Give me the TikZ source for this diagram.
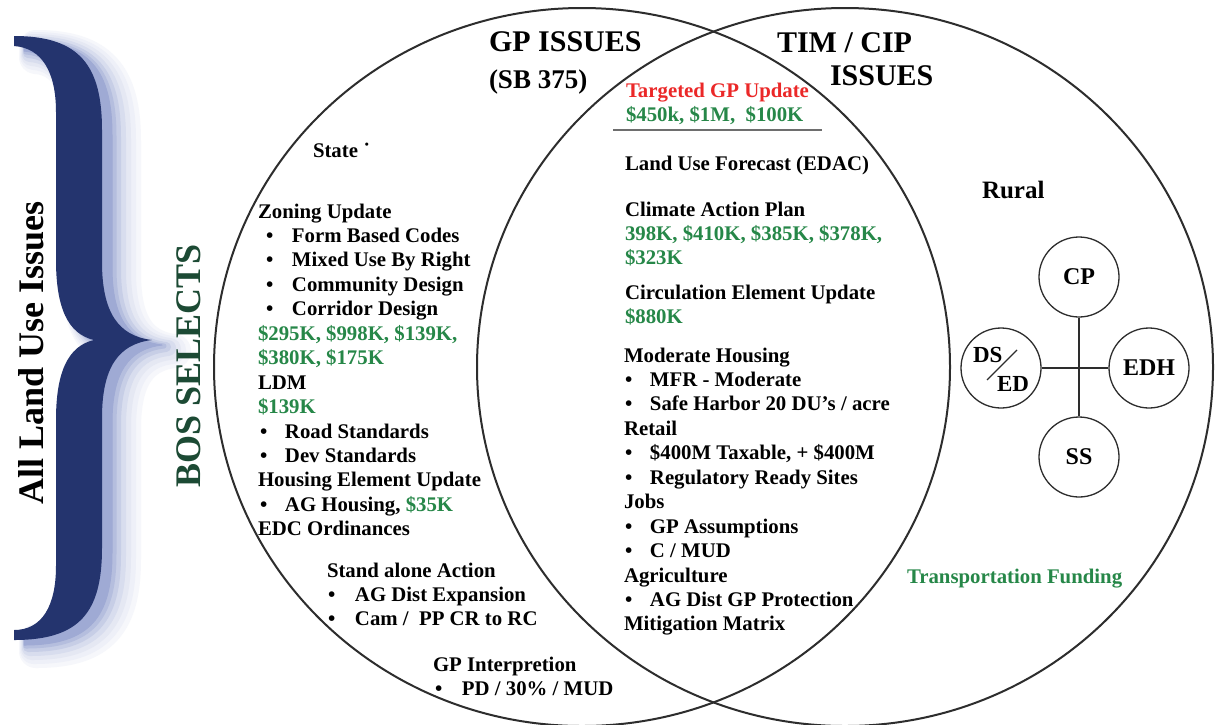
\documentclass[tikz,border=0pt]{standalone}
\usepackage{fontspec}
\setmainfont{Liberation Serif}
\usetikzlibrary{shapes.geometric}
\definecolor{navy}{RGB}{36,52,110}
\definecolor{shade}{RGB}{70,92,172}
\definecolor{bosg}{RGB}{28,74,52}
\definecolor{amt}{RGB}{38,135,72}
\definecolor{tred}{RGB}{235,40,40}
\definecolor{ring}{RGB}{45,45,45}
\definecolor{rule}{RGB}{110,110,110}
\newcommand\money[1]{\textcolor{amt}{#1}}
\newcommand\bitem[3]{\hspace*{#1pt}\makebox[#2pt][l]{\textbullet}#3}
\newcommand\bracepath{(14,36) .. controls (80,36) and (102,66) .. (102,130)
 -- (102,262) .. controls (102,312) and (118,336) .. (152,340)
 .. controls (118,344) and (102,368) .. (102,418)
 -- (102,548) .. controls (102,612) and (80,640) .. (14,640)
 -- (14,630) .. controls (42,630) and (56,606) .. (56,566)
 -- (56,420) .. controls (56,372) and (68,346) .. (94,340)
 .. controls (68,334) and (56,308) .. (56,260)
 -- (56,112) .. controls (56,72) and (42,48) .. (14,46) -- cycle}
\begin{document}
\begin{tikzpicture}[x=1pt,y=-1pt,
  bigc/.style={ellipse, draw=ring, line width=2pt, minimum width=736pt, minimum height=718pt, inner sep=0pt, outer sep=0pt},
  smallc/.style={circle, draw=ring, line width=1.3pt, minimum size=80pt, inner sep=0pt, font=\bfseries\fontsize{24}{28}\selectfont},
  block/.style={anchor=north west, inner sep=0pt, outer sep=0pt, align=left, font=\bfseries\fontsize{20.8}{24.45}\selectfont},
  line/.style={anchor=base west, inner sep=0pt, outer sep=0pt, font=\bfseries\fontsize{20.8}{24.45}\selectfont},
  title/.style={anchor=base west, inner sep=0pt, outer sep=0pt, font=\bfseries\fontsize{30}{36}\selectfont},
  side/.style={rotate=90, anchor=base, inner sep=0pt, outer sep=0pt, font=\bfseries\fontsize{36}{40}\selectfont},
  link/.style={draw=ring, line width=1.3pt}
]
\useasboundingbox (0,0) rectangle (1222,724);
\fill[white] (0,0) rectangle (1222,724);

% brace with soft shadow to the right (solid layers, light to dark)
\foreach \s/\w/\c in {22/34/5, 20/28/9, 18/22/14, 16/16/21, 14/10/30, 12/5/40, 10/1/52}{
  \filldraw[fill=shade!\c, draw=shade!\c, line width=\w pt, line join=round, shift={(\s,0.5*\s)}] \bracepath;
}
\fill[navy] \bracepath;

\node[side] (all) at (43,353) {All Land Use Issues};
\node[side, text=bosg] (bos) at (200,366) {BOS SELECTS};

% the two big circles
\node[bigc] (gp) at (582,367) {};
\node[bigc] (tim) at (845,367) {};

% titles
\node[title] (gpt) at (489,51) {GP ISSUES};
\node[title, font=\bfseries\fontsize{27}{32}\selectfont] (sb) at (489,88) {(SB 375)};
\node[title] (timt) at (777,52) {TIM / CIP};
\node[title] (isst) at (830,85) {ISSUES};

% centre column
\node[block] (tgp) at (626,79.9) {\strut\textcolor{tred}{Targeted GP Update}\\[-0.45pt]\money{\$450k, \$1M,~ \$100K}};
\draw[rule, line width=2pt] (613,130) -- (822,130);
\node[line] (luf) at (625,170) {Land Use Forecast (EDAC)};
\node[block] (cap) at (625,198.9) {\strut Climate Action Plan\\\money{398K, \$410K, \$385K, \$378K,}\\\money{\$323K}};
\node[block] (ceu) at (625,281.9) {\strut Circulation Element Update\\\money{\$880K}};
\node[block] (mh) at (624,344.9) {\strut Moderate Housing\\
\bitem{1}{25}{MFR - Moderate}\\
\bitem{1}{25}{Safe Harbor 20 DU’s / acre}\\
Retail\\
\bitem{1}{25}{\$400M Taxable, + \$400M}\\
\bitem{1}{25}{Regulatory Ready Sites}\\
Jobs\\
\bitem{1}{25}{GP Assumptions}\\
\bitem{1}{25}{C / MUD}\\
Agriculture\\
\bitem{1}{25}{AG Dist GP Protection}\\
Mitigation Matrix};

% left column
\node[line] (state) at (313,157) {State ˙};
\node[block] (zon) at (258,200.9) {\strut Zoning Update\\
\bitem{8}{26}{Form Based Codes}\\
\bitem{8}{26}{Mixed Use By Right}\\
\bitem{8}{26}{Community Design}\\
\bitem{8}{26}{Corridor Design}\\
\money{\$295K, \$998K, \$139K,}\\
\money{\$380K, \$175K}\\
LDM\\
\money{\$139K}\\
\bitem{2}{25}{Road Standards}\\
\bitem{2}{25}{Dev Standards}\\
Housing Element Update\\
\bitem{2}{25}{AG Housing, \money{\$35K}}\\
EDC Ordinances};
\node[block] (sa) at (327,559.9) {\strut Stand alone Action\\[-0.45pt]
\bitem{1}{27}{AG Dist Expansion}\\[-0.45pt]
\bitem{1}{27}{Cam /~ PP CR to RC}};
\node[block] (gpi) at (433,653.9) {\strut GP Interpretion\\[-0.45pt]
\bitem{2}{27}{PD / 30\% / MUD}};

% right part
\node[line, font=\bfseries\fontsize{25}{30}\selectfont] (rural) at (982,198) {Rural};
\node[smallc] (cp) at (1079,277) {CP};
\node[smallc] (edh) at (1149,368) {EDH};
\node[smallc] (dsed) at (1001,368) {};
\node[smallc] (ss) at (1079,457) {SS};
\draw[link] (cp) -- (ss);
\draw[link] (dsed) -- (edh);
\node[line, font=\bfseries\fontsize{23}{27}\selectfont] (ds) at (973,362) {DS};
\node[line, font=\bfseries\fontsize{23}{27}\selectfont] (ed) at (997,391) {ED};
\coordinate (sl1) at (987,380);
\coordinate (sl2) at (1017,350);
\draw[link] (sl1) -- (sl2);
\node[line, text=amt] (tf) at (907,583) {Transportation Funding};
\end{tikzpicture}
\end{document}
